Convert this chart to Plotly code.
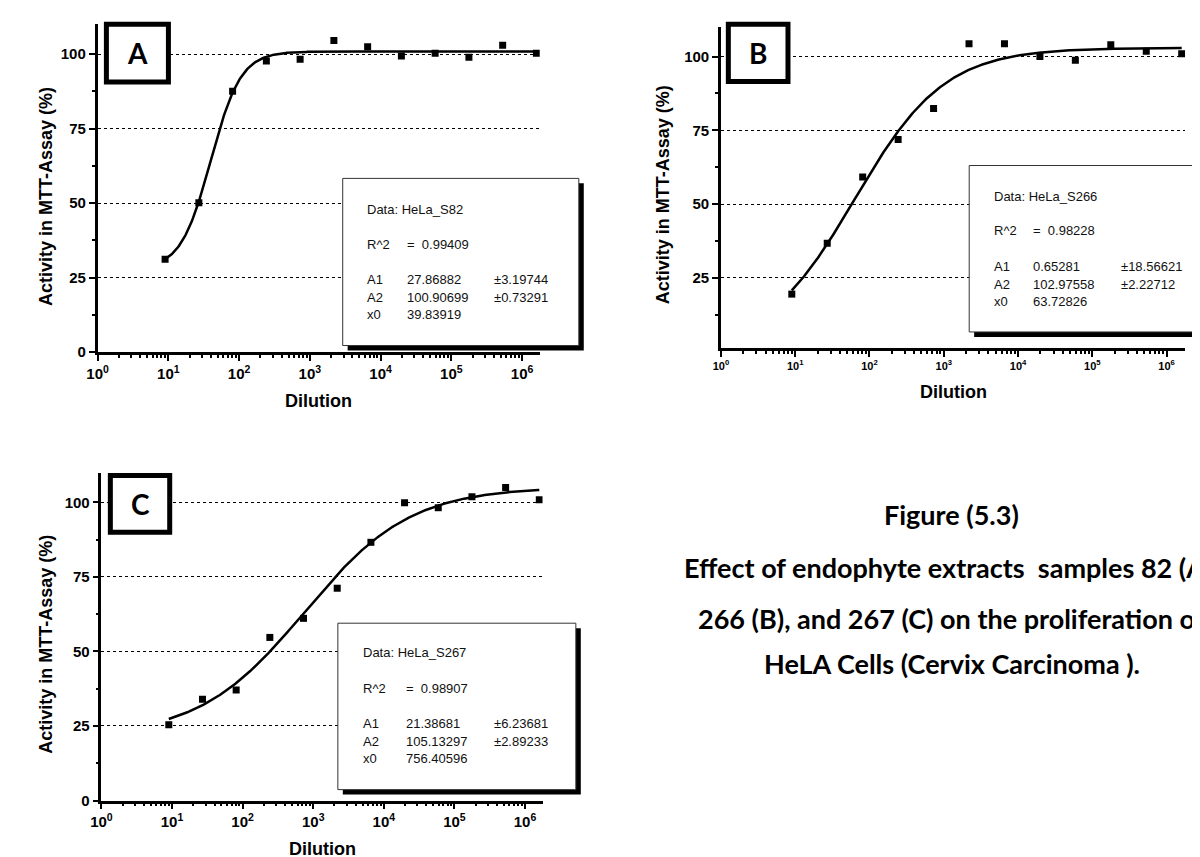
import numpy as np
import plotly.graph_objects as go

W, H = 1200, 857

# ---------------- data ----------------
dilution = [9, 27, 81, 243, 729, 2187, 6561, 19683, 59049, 177147, 531441, 1594323]
activity_A = [31.2, 50.1, 87.6, 97.7, 98.3, 104.6, 102.5, 99.4, 100.3, 99.0, 103.0, 100.3]
activity_B = [19.5, 36.7, 59.2, 71.9, 82.4, 104.4, 104.4, 100.0, 98.8, 104.0, 101.8, 101.0]
activity_C = [25.4, 34.0, 37.1, 54.7, 61.1, 71.2, 86.6, 99.9, 98.2, 101.9, 105.0, 100.9]

fit_A = dict(A1=27.86882, A2=100.90699, x0=39.83919, p=2.05)
fit_B = dict(A1=0.65281, A2=102.97558, x0=63.72826, p=0.72)
fit_C = dict(A1=21.38681, A2=105.13297, x0=756.40596, p=0.58)

box_A = [("Data: HeLa_S82", "", ""), ("R^2", "=  0.99409", ""),
         ("A1", "27.86882", "±3.19744"), ("A2", "100.90699", "±0.73291"), ("x0", "39.83919", "")]
box_B = [("Data: HeLa_S266", "", ""), ("R^2", "=  0.98228", ""),
         ("A1", "0.65281", "±18.56621"), ("A2", "102.97558", "±2.22712"), ("x0", "63.72826", "")]
box_C = [("Data: HeLa_S267", "", ""), ("R^2", "=  0.98907", ""),
         ("A1", "21.38681", "±6.23681"), ("A2", "105.13297", "±2.89233"), ("x0", "756.40596", "")]

xtick_vals = [1, 10, 100, 1000, 10000, 100000, 1000000]
xtick_text = ["10<sup>%d</sup>" % k for k in range(7)]
xminor_vals = [m * 10 ** k for k in range(7) for m in range(2, 10)]

caption = ["Figure (5.3)",
           "Effect of endophyte extracts  samples 82 (A),",
           "266 (B), and 267 (C) on the proliferation of",
           "HeLA Cells (Cervix Carcinoma )."]

# ---------------- helpers ----------------
def px(x):
    return x / W

def py(y):
    return 1 - y / H

def logistic(x, A1, A2, x0, p):
    x = np.asarray(x, dtype=float)
    return A2 + (A1 - A2) / (1 + (x / x0) ** p)

ARIAL = "Arial, Liberation Sans, sans-serif"

fig = go.Figure()

panels = [
    dict(sfx="", data=activity_A, fit=fit_A, xd=(79.3, 525.6), yd=(347.3, 16.6), yr=[0, 110], xfs=15,
         box=box_A, bx=(326.7, 565.0, 172.0, 340.7), cols=(349, 390, 477), rows=(203, 239, 274, 292, 309),
         lab="A", lb=(85.7, 153.3, 14.0, 77.3), ytit=(27, 190), xtit=(302, 397)),
    dict(sfx="2", data=activity_B, fit=fit_B, xd=(708.4, 1177.0), yd=(343.3, 19.3), yr=[1.2, 110], xfs=11,
         box=box_B, bx=(959.0, 1215.0, 159.0, 327.0), cols=(982, 1021, 1110), rows=(190, 224.3, 261, 278.7, 296.7),
         lab="B", lb=(713.4, 778.6, 14.0, 76.7), ytit=(650, 189), xtit=(943, 388)),
    dict(sfx="3", data=activity_C, fit=fit_C, xd=(83.2, 528.5), yd=(800.0, 468.9), yr=[0, 110], xfs=15,
         box=box_C, bx=(321.8, 562.0, 621.0, 789.0), cols=(345, 389, 477), rows=(650.7, 686.7, 722.3, 740, 757.7),
         lab="C", lb=(89.7, 154.6, 469.3, 531.7), ytit=(27, 642), xtit=(306, 849)),
]

shapes = []
annotations = []
xc = np.logspace(np.log10(dilution[0]), np.log10(dilution[-1]), 400)

for P in panels:
    sfx = P["sfx"]
    xa = "x" + sfx
    ya = "y" + sfx
    fig.add_trace(go.Scatter(x=xc, y=logistic(xc, **P["fit"]), mode="lines",
                             line=dict(color="black", width=2.5), xaxis=xa, yaxis=ya,
                             showlegend=False, hoverinfo="skip"))
    fig.add_trace(go.Scatter(x=dilution, y=P["data"], mode="markers",
                             marker=dict(symbol="square", size=7, color="black"),
                             xaxis=xa, yaxis=ya, showlegend=False))
    xkey = "xaxis" + sfx
    ykey = "yaxis" + sfx
    fig.update_layout(**{
        xkey: dict(type="log", range=[0, 6.25], domain=[px(P["xd"][0]), px(P["xd"][1])],
                   anchor=ya, showline=True, linecolor="black", linewidth=2.5,
                   ticks="outside", ticklen=6, tickwidth=2, tickcolor="black",
                   tickmode="array", tickvals=xtick_vals, ticktext=xtick_text,
                   tickfont=dict(family=ARIAL, size=P["xfs"], color="black", weight="bold"),
                   showgrid=False, zeroline=False,
                   minor=dict(tickmode="array", tickvals=xminor_vals, ticks="outside",
                              ticklen=3, tickwidth=1.5, tickcolor="black", showgrid=False)),
        ykey: dict(range=P["yr"], domain=[py(P["yd"][0]), py(P["yd"][1])], anchor=xa,
                   showline=True, linecolor="black", linewidth=2.5,
                   ticks="outside", ticklen=6, tickwidth=2, tickcolor="black",
                   tickmode="linear", tick0=0, dtick=25,
                   tickfont=dict(family=ARIAL, size=15, color="black", weight="bold"),
                   showgrid=True, gridcolor="black", gridwidth=1, griddash="3px,3px",
                   zeroline=False,
                   minor=dict(tick0=0, dtick=12.5, ticks="outside", ticklen=3, tickwidth=1.5,
                              tickcolor="black", showgrid=False)),
    })

    # stats box with shadow
    x0, x1, y0, y1 = P["bx"]
    shapes.append(dict(type="rect", xref="paper", yref="paper",
                       x0=px(x0 + 5), x1=px(x1 + 5), y0=py(y1 + 5), y1=py(y0 + 5),
                       fillcolor="black", line=dict(width=0)))
    shapes.append(dict(type="rect", xref="paper", yref="paper",
                       x0=px(x0), x1=px(x1), y0=py(y1), y1=py(y0),
                       fillcolor="white", line=dict(color="#333333", width=1)))
    for (c1, c2, c3), ry in zip(P["box"], P["rows"]):
        for txt, cx in ((c1, P["cols"][0]), (c2, P["cols"][1]), (c3, P["cols"][2])):
            if txt:
                annotations.append(dict(text=txt, x=px(cx), y=py(ry), xref="paper", yref="paper",
                                        xanchor="left", yanchor="middle", showarrow=False,
                                        font=dict(family=ARIAL, size=13, color="#111111")))

    # letter box
    lx0, lx1, ly0, ly1 = P["lb"]
    shapes.append(dict(type="rect", xref="paper", yref="paper",
                       x0=px(lx0 + 2.5), x1=px(lx1 - 2.5), y0=py(ly1 - 2.5), y1=py(ly0 + 2.5),
                       fillcolor="white", line=dict(color="black", width=5)))
    annotations.append(dict(text="<b>%s</b>" % P["lab"], x=px((lx0 + lx1) / 2), y=py((ly0 + ly1) / 2),
                            xref="paper", yref="paper", xanchor="center", yanchor="middle",
                            showarrow=False, font=dict(family="Lato", size=28, color="black")))

    # axis titles
    annotations.append(dict(text="<b>Activity in MTT-Assay (%)</b>", x=px(P["ytit"][0]), y=py(P["ytit"][1]),
                            xref="paper", yref="paper", xanchor="center", yanchor="middle",
                            textangle=-90, showarrow=False,
                            font=dict(family=ARIAL, size=18, color="black")))
    annotations.append(dict(text="<b>Dilution</b>", x=px(P["xtit"][0]), y=py(P["xtit"][1]),
                            xref="paper", yref="paper", xanchor="center", yanchor="middle",
                            showarrow=False, font=dict(family=ARIAL, size=18, color="black")))

# caption
for txt, cy in zip(caption, [511, 565, 616, 662]):
    annotations.append(dict(text="<b>%s</b>" % txt, x=px(941.5), y=py(cy), xref="paper", yref="paper",
                            xanchor="center", yanchor="middle", showarrow=False,
                            font=dict(family="Lato", size=27, color="black")))

fig.update_layout(width=W, height=H, margin=dict(l=0, r=0, t=0, b=0),
                  paper_bgcolor="white", plot_bgcolor="white",
                  shapes=shapes, annotations=annotations, showlegend=False)

fig.write_html("out.html")
